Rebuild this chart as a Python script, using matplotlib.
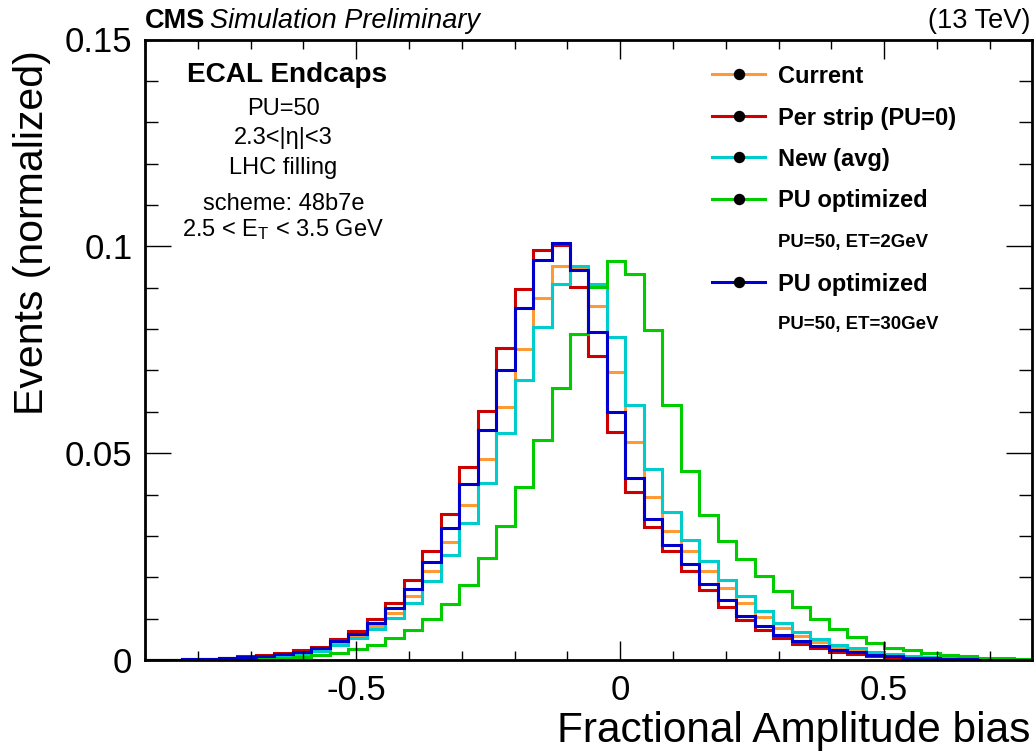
import numpy as np
import matplotlib
matplotlib.use("Agg")
import matplotlib.pyplot as plt
from matplotlib.lines import Line2D
from matplotlib.ticker import MultipleLocator, FixedLocator, FixedFormatter

plt.rcParams['font.family'] = ['Liberation Sans', 'DejaVu Sans']
plt.rcParams['mathtext.fontset'] = 'custom'
plt.rcParams['mathtext.rm'] = 'Liberation Sans'
plt.rcParams['mathtext.it'] = 'Liberation Sans:italic'
plt.rcParams['axes.unicode_minus'] = False

# ---- data ----
x_min, x_max, n_bins = -0.9, 0.78, 48

current = [0.0001, 0.0001, 0.0001, 0.0002, 0.0004, 0.0006, 0.0009, 0.0012, 0.0017, 0.0025,
           0.0040, 0.0058, 0.0081, 0.0113, 0.0155, 0.0214, 0.0286, 0.0375, 0.0487, 0.0612,
           0.0752, 0.0875, 0.0952, 0.0947, 0.0855, 0.0697, 0.0528, 0.0394, 0.0313, 0.0263,
           0.0214, 0.0174, 0.0137, 0.0103, 0.0078, 0.0058, 0.0044, 0.0031, 0.0024, 0.0017,
           0.0012, 0.0008, 0.0006, 0.0004, 0.0003, 0.0002, 0.0001, 0.0001]
per_strip = [0.0001, 0.0001, 0.0002, 0.0003, 0.0006, 0.0009, 0.0012, 0.0016, 0.0023, 0.0032,
             0.0051, 0.0070, 0.0100, 0.0139, 0.0193, 0.0263, 0.0354, 0.0467, 0.0603, 0.0755,
             0.0896, 0.0990, 0.1003, 0.0901, 0.0736, 0.0550, 0.0405, 0.0321, 0.0263, 0.0214,
             0.0170, 0.0129, 0.0097, 0.0073, 0.0053, 0.0039, 0.0028, 0.0020, 0.0015, 0.0010,
             0.0007, 0.0005, 0.0003, 0.0002, 0.0001, 0.0001, 0.0001, 0.0000]
new_avg = [0.0001, 0.0001, 0.0001, 0.0002, 0.0004, 0.0006, 0.0008, 0.0011, 0.0015, 0.0022,
           0.0036, 0.0053, 0.0074, 0.0101, 0.0138, 0.0190, 0.0255, 0.0332, 0.0427, 0.0548,
           0.0676, 0.0805, 0.0908, 0.0953, 0.0908, 0.0781, 0.0617, 0.0461, 0.0358, 0.0291,
           0.0240, 0.0194, 0.0154, 0.0119, 0.0090, 0.0067, 0.0051, 0.0036, 0.0028, 0.0020,
           0.0014, 0.0010, 0.0007, 0.0005, 0.0003, 0.0002, 0.0001, 0.0001]
pu_opt_2 = [0.0000, 0.0000, 0.0001, 0.0001, 0.0002, 0.0003, 0.0004, 0.0005, 0.0008, 0.0012,
            0.0018, 0.0026, 0.0036, 0.0053, 0.0073, 0.0100, 0.0135, 0.0182, 0.0247, 0.0325,
            0.0418, 0.0532, 0.0657, 0.0789, 0.0902, 0.0964, 0.0933, 0.0797, 0.0617, 0.0456,
            0.0350, 0.0287, 0.0244, 0.0203, 0.0166, 0.0129, 0.0099, 0.0075, 0.0055, 0.0040,
            0.0030, 0.0023, 0.0016, 0.0012, 0.0009, 0.0006, 0.0004, 0.0003]
pu_opt_30 = [0.0001, 0.0001, 0.0002, 0.0003, 0.0005, 0.0007, 0.0010, 0.0014, 0.0019, 0.0028,
             0.0045, 0.0063, 0.0089, 0.0125, 0.0172, 0.0237, 0.0318, 0.0426, 0.0556, 0.0702,
             0.0850, 0.0968, 0.1008, 0.0943, 0.0794, 0.0600, 0.0439, 0.0342, 0.0279, 0.0231,
             0.0184, 0.0144, 0.0106, 0.0083, 0.0061, 0.0046, 0.0034, 0.0024, 0.0019, 0.0013,
             0.0009, 0.0006, 0.0004, 0.0003, 0.0002, 0.0001, 0.0001, 0.0001]

series = [current, per_strip, new_avg, pu_opt_2, pu_opt_30]
colors = ['#FF9933', '#CC0000', '#00CCCC', '#00CC00', '#0000CC']
labels = ['Current', 'Per strip (PU=0)', 'New (avg)', 'PU optimized', 'PU optimized']
sublabels = [None, None, None, 'PU=50, ET=2GeV', 'PU=50, ET=30GeV']

x_ticks = [-0.5, 0, 0.5]
x_tick_labels = ['-0.5', '0', '0.5']
y_ticks = [0, 0.05, 0.1, 0.15]
y_tick_labels = ['0', '0.05', '0.1', '0.15']

info_title = 'ECAL Endcaps'
info_lines = ['PU=50', '2.3<|η|<3', 'LHC filling', 'scheme: 48b7e',
              r'2.5 < E$_\mathregular{T}$ < 3.5 GeV']

# ---- figure ----
W, H = 1035, 755
def fx(px):
    return px / W
def fy(py):
    return 1 - py / H

fig = plt.figure(figsize=(W / 100, H / 100), dpi=100)
ax = fig.add_axes([fx(145), fy(660), (1032 - 145) / W, (660 - 39.5) / H])

edges = np.linspace(x_min, x_max, n_bins + 1)
for vals, c in zip(series, colors):
    ax.stairs(vals, edges, color=c, lw=2.2, baseline=None)

ax.set_xlim(x_min, x_max)
ax.set_ylim(0, 0.15)

ax.xaxis.set_major_locator(FixedLocator(x_ticks))
ax.xaxis.set_major_formatter(FixedFormatter(x_tick_labels))
ax.xaxis.set_minor_locator(MultipleLocator(0.1))
ax.yaxis.set_major_locator(FixedLocator(y_ticks))
ax.yaxis.set_major_formatter(FixedFormatter(y_tick_labels))
ax.yaxis.set_minor_locator(MultipleLocator(0.01))

ax.tick_params(axis='both', which='both', direction='in', top=True, right=True, width=1.0, colors='black')
ax.tick_params(axis='x', which='major', length=13.7, labelsize=25, pad=10)
ax.tick_params(axis='x', which='minor', length=6.8)
ax.tick_params(axis='y', which='major', length=18.7, labelsize=25, pad=9)
ax.tick_params(axis='y', which='minor', length=9.4)
for s in ax.spines.values():
    s.set_linewidth(2.0)

fig.text(fx(1030), fy(742), 'Fractional Amplitude bias', ha='right', va='baseline', fontsize=30.5)
fig.text(fx(32), fy(50), 'Events (normalized)', ha='center', va='top', rotation=90, fontsize=29.5)

fig.text(fx(145), fy(28.5), 'CMS', ha='left', va='baseline', fontsize=19.5, fontweight='bold')
fig.text(fx(210), fy(28.5), 'Simulation Preliminary', ha='left', va='baseline', fontsize=19.5, style='italic')
fig.text(fx(1030), fy(28.5), '(13 TeV)', ha='right', va='baseline', fontsize=19.5)

fig.text(fx(287), fy(82), info_title, ha='center', va='baseline', fontsize=20.2, fontweight='bold')
info_y = [115, 144, 174, 210, 236]
for t, yy in zip(info_lines, info_y):
    fig.text(fx(283.5), fy(yy), t, ha='center', va='baseline', fontsize=17)

# legend (drawn as key line + marker + text rows)
row_y = 74
rows = []
for lab, sub, c in zip(labels, sublabels, colors):
    rows.append((lab, c, 17))
    if sub is not None:
        rows.append((sub, None, 13.4))
for i, (lab, c, fs) in enumerate(rows):
    yy = row_y + i * 41.5
    if c is not None:
        fig.add_artist(Line2D([fx(712), fx(765)], [fy(yy), fy(yy)], color=c, lw=2.2,
                              transform=fig.transFigure))
        fig.add_artist(Line2D([fx(738.5)], [fy(yy)], marker='o', markersize=7.2,
                              markerfacecolor='k', markeredgecolor='k', linestyle='none',
                              transform=fig.transFigure))
    fig.text(fx(778), fy(yy), lab, ha='left', va='center_baseline', fontsize=fs, fontweight='bold')

fig.savefig('out.png', dpi=100)
